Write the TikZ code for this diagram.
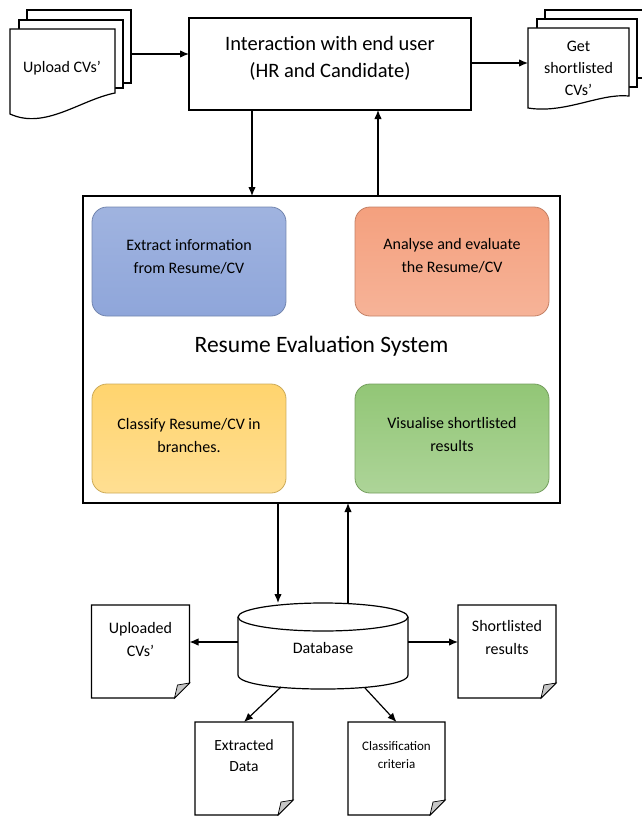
\documentclass[tikz,border=0pt]{standalone}
\usepackage{fontspec}
\setmainfont{Carlito}
\usetikzlibrary{arrows.meta}

\definecolor{extractblue}{RGB}{143,166,218}
\definecolor{analyseorange}{RGB}{244,160,126}
\definecolor{classifyyellow}{RGB}{255,212,110}
\definecolor{visualgreen}{RGB}{146,198,118}

\tikzset{
  page/.style={draw, line width=1.2pt, fill=white},
  arrow/.style={-{Latex[length=9pt,width=7.5pt]}, line width=1.2pt},
  frame/.style={draw, line width=1.2pt, outer sep=0pt},
  task/.style={rounded corners=15pt, line width=0.8pt, minimum width=194pt, minimum height=109pt},
  body/.style={draw=none, align=center, font=\fontsize{16}{23}\selectfont},
  note/.style={draw=none, minimum width=98pt, minimum height=93pt, outer sep=0pt}
}

% page with folded corner
\newcommand{\foldpage}[1]{%
  \draw[page] (#1.north west) -- (#1.north east) -- ([yshift=15pt]#1.south east)
    -- ([xshift=-15pt]#1.south east) -- (#1.south west) -- cycle;
  \filldraw[fill=gray!45, line width=0.7pt] ([yshift=15pt]#1.south east)
    -- ([xshift=-15pt]#1.south east) -- ([xshift=-12pt,yshift=13pt]#1.south east) -- cycle;}

\begin{document}
\begin{tikzpicture}[x=1pt, y=-1pt]
    \useasboundingbox (0,0) rectangle (641,816);

    % end user
    \node [frame, minimum width=282pt, minimum height=92pt, name=ui] at (330,64) {};
    \node [draw=none, align=center, font=\fontsize{20.5}{27}\selectfont, name=uitext] at (330,58) {Interaction with end user\\(HR and Candidate)};

    % upload stack
    \draw [page] (27,20) -- (27,10) -- (131,10) -- (131,83) -- (123,83);
    \draw [page] (19,29) -- (19,20) -- (123,20) -- (123,88) -- (115,88);
    \draw [page] (10,29) -- (115,29) -- (115,93) .. controls (80,100) and (45,130) .. (10,114) -- cycle;
    \node [body, name=up] at (62,68) {Upload CVs’};
    \coordinate (upout) at (131,54);
    \draw [arrow] (upout) -- (upout -| ui.west);

    % shortlisted stack
    \draw [page] (545,19) -- (545,10) -- (650,10) -- (650,78) -- (637,78);
    \draw [page] (537,28) -- (537,19) -- (637,19) -- (637,87) -- (629,87);
    \draw [page] (528,28) -- (629,28) -- (629,96) .. controls (600,93) and (565,114) .. (528,108) -- cycle;
    \node [body, font=\fontsize{16}{22}\selectfont, name=gs] at (578.5,68) {Get\\shortlisted\\CVs’};
    \coordinate (gsin) at (528,63);
    \draw [arrow] (ui.east |- gsin) -- (gsin);

    % resume evaluation system
    \node [frame, minimum width=477pt, minimum height=307pt, name=sys] at (321.5,349.5) {};
    \node [draw=none, font=\fontsize{23.5}{28}\selectfont, name=systext] at (321.5,346) {Resume Evaluation System};
    \draw [arrow] ([xshift=-78pt]ui.south) -- ([xshift=-78pt]ui.south |- sys.north);
    \draw [arrow] ([xshift=48pt]ui.south |- sys.north) -- ([xshift=48pt]ui.south);

    \node [task, draw=extractblue!80!black, top color=extractblue!85, bottom color=extractblue, name=t1] at (189,261.5) {};
    \node [body, name=t1text] at (189,257) {Extract information\\from Resume/CV};
    \node [task, draw=analyseorange!80!black, top color=analyseorange, bottom color=analyseorange!80, name=t2] at (452,261.5) {};
    \node [body, name=t2text] at (452,256) {Analyse and evaluate\\the Resume/CV};
    \node [task, draw=classifyyellow!80!black, top color=classifyyellow, bottom color=classifyyellow!75, name=t3] at (189,438.5) {};
    \node [body, name=t3text] at (189,436) {Classify Resume/CV in\\branches.};
    \node [task, draw=visualgreen!80!black, top color=visualgreen, bottom color=visualgreen!75, name=t4] at (452,438.5) {};
    \node [body, name=t4text] at (452,434) {Visualise shortlisted\\results};

    % database
    \node [draw=none, minimum width=170pt, minimum height=86pt, name=db] at (323,646) {};
    \draw [page] (238,617) -- (238,675) .. controls (238,693.7) and (408,693.7) .. (408,675) -- (408,617);
    \draw [page] (323,617) ellipse [x radius=85, y radius=14];
    \node [body, name=dbtext] at (323,648) {Database};
    \coordinate (dbin) at (278,603);
    \coordinate (dbout) at (348,603.5);
    \draw [arrow] (sys.south -| dbin) -- (dbin);
    \draw [arrow] (dbout) -- (sys.south -| dbout);

    % stored files
    \node [note, name=upd] at (140.5,651.5) {};
    \foldpage{upd}
    \node [body, name=updtext] at (140.5,639) {Uploaded\\CVs’};
    \node [note, name=shl] at (507,651.5) {};
    \foldpage{shl}
    \node [body, name=shltext] at (507,637.5) {Shortlisted\\results};
    \node [note, name=ext] at (244,768.5) {};
    \foldpage{ext}
    \node [body, font=\fontsize{15.5}{21}\selectfont, name=exttext] at (244,755.5) {Extracted\\Data};
    \node [note, minimum width=97pt, name=cls] at (396.5,768.5) {};
    \foldpage{cls}
    \node [body, font=\fontsize{13}{18}\selectfont, name=clstext] at (396.5,755) {Classification\\criteria};

    \draw [arrow] ([yshift=4pt]db.west) -- ([yshift=4pt]db.west -| upd.east);
    \draw [arrow] ([yshift=4pt]db.east) -- ([yshift=4pt]db.east -| shl.west);
    \coordinate (extout) at (281,687);
    \coordinate (clsout) at (365,688);
    \draw [arrow] (extout) -- (ext.north);
    \draw [arrow] (clsout) -- (cls.north);
  \end{tikzpicture}
\end{document}
